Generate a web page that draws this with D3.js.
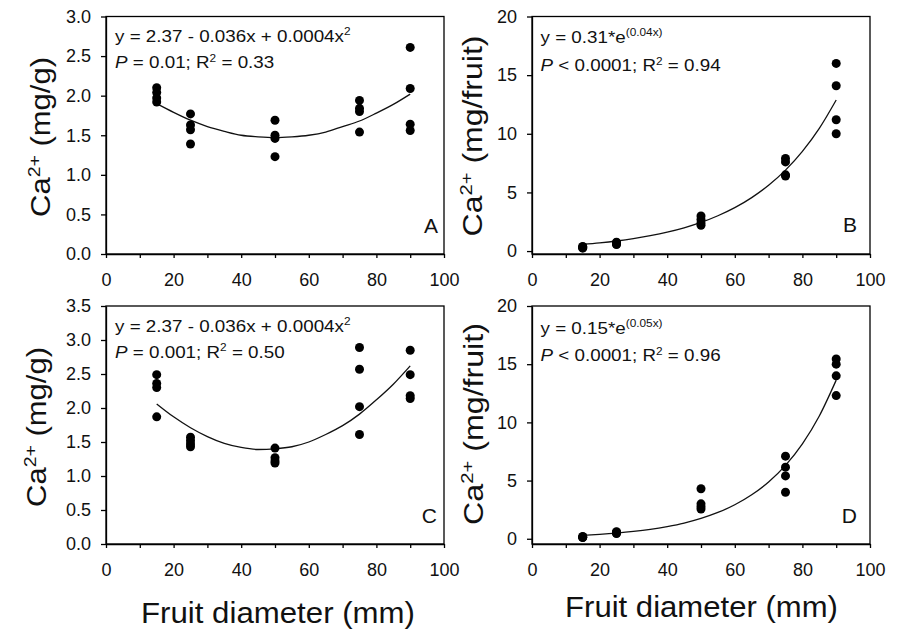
<!DOCTYPE html>
<html>
<head>
<meta charset="utf-8">
<script src="https://cdn.jsdelivr.net/npm/d3@7"></script>
<style>
body { margin: 0; background: #fff; }
svg { display: block; font-family: "Liberation Sans", Arial, sans-serif; }
</style>
</head>
<body>
<svg id="chart" width="903" height="633"></svg>
<script>
// fruit diameter classes (mm)
const diameters = [15, 25, 50, 75, 90]

// Ca2+ readings, one row per diameter class
const concA = [[2.10, 2.04, 1.97, 1.92], [1.77, 1.63, 1.57, 1.39], [1.69, 1.50, 1.46, 1.23], [1.94, 1.84, 1.80, 1.54], [2.61, 2.09, 1.64, 1.56]]
const fruitB = [[0.40, 0.35, 0.30, 0.25], [0.75, 0.70, 0.60, 0.55], [3.00, 2.70, 2.40, 2.20], [7.90, 7.60, 6.50, 6.40], [16.0, 14.1, 11.2, 10.0]]
const concC = [[2.49, 2.36, 2.30, 1.87], [1.57, 1.52, 1.47, 1.43], [1.41, 1.27, 1.22, 1.19], [2.89, 2.57, 2.02, 1.61], [2.85, 2.49, 2.18, 2.14]]
const fruitD = [[0.20, 0.15, 0.12, 0.10], [0.60, 0.55, 0.50, 0.45], [4.30, 3.00, 2.75, 2.55], [7.10, 6.15, 5.40, 4.00], [15.45, 15.0, 14.0, 12.3]]

// fitted curves, every 5 mm
const fitX = [15, 20, 25, 30, 35, 40, 45, 50, 55, 60, 65, 70, 75, 80, 85, 90]
const fitA = [1.90, 1.79, 1.69, 1.61, 1.55, 1.50, 1.48, 1.47, 1.48, 1.50, 1.54, 1.61, 1.68, 1.78, 1.89, 2.02]
const fitB = [0.57, 0.70, 0.86, 1.06, 1.31, 1.61, 1.98, 2.44, 3.01, 3.70, 4.56, 5.61, 6.90, 8.50, 10.46, 12.88]
const fitC = [2.06, 1.87, 1.71, 1.58, 1.48, 1.42, 1.39, 1.40, 1.43, 1.50, 1.61, 1.74, 1.91, 2.12, 2.35, 2.62]
const fitD = [0.29, 0.38, 0.49, 0.63, 0.81, 1.05, 1.35, 1.75, 2.26, 2.92, 3.78, 4.88, 6.31, 8.16, 10.55, 13.63]

// ticks
const xTicks = [0, 20, 40, 60, 80, 100]
const xMinor = [10, 30, 50, 70, 90]
const yTicksA = [0, 0.5, 1, 1.5, 2, 2.5, 3]
const yTicksC = [0, 0.5, 1, 1.5, 2, 2.5, 3, 3.5]
const yTicksFruit = [0, 5, 10, 15, 20]

// equation text: [string, style]  i = italic, s = superscript
const eqA = [[["y = 2.37 - 0.036x + 0.0004x", ""], ["2", "s"]],
             [["P", "i"], [" = 0.01; R", ""], ["2", "s"], [" = 0.33", ""]]]
const eqB = [[["y = 0.31*e", ""], ["(0.04x)", "s"]],
             [["P", "i"], [" < 0.0001; R", ""], ["2", "s"], [" = 0.94", ""]]]
const eqC = [[["y = 2.37 - 0.036x + 0.0004x", ""], ["2", "s"]],
             [["P", "i"], [" = 0.001; R", ""], ["2", "s"], [" = 0.50", ""]]]
const eqD = [[["y = 0.15*e", ""], ["(0.05x)", "s"]],
             [["P", "i"], [" < 0.0001; R", ""], ["2", "s"], [" = 0.96", ""]]]

const panelLetters = ["A", "B", "C", "D"]
const xTitle = "Fruit diameter (mm)"
const yUnits = ["(mg/g)", "(mg/fruit)", "(mg/g)", "(mg/fruit)"]

const svg = d3.select("#chart")
const ink = "#111"

const panels = [
    { box: [106, 444, 16.5, 254], ydom: [0, 3], yt: yTicksA, fmt: d3.format(".1f"), vals: concA, fit: fitA, eq: eqA,
      eqPos: [115, 41.7, 68.3], letterPos: [438, 233.3], yTitle: [50, 137, 160] },
    { box: [532, 870, 16.5, 254], ydom: [-0.25, 20], yt: yTicksFruit, fmt: d3.format("d"), vals: fruitB, fit: fitB, eq: eqB,
      eqPos: [540.5, 43.3, 71], letterPos: [857, 231.7], yTitle: [482, 136, 201] },
    { box: [106, 444, 306, 544], ydom: [0, 3.5], yt: yTicksC, fmt: d3.format(".1f"), vals: concC, fit: fitC, eq: eqC,
      eqPos: [115, 331.7, 357.7], letterPos: [437, 523.3], yTitle: [46, 427, 160], xTitle: [278, 623.3, 274] },
    { box: [532, 870, 306, 544], ydom: [-0.45, 20], yt: yTicksFruit, fmt: d3.format("d"), vals: fruitD, fit: fitD, eq: eqD,
      eqPos: [540.5, 334.3, 361], letterPos: [857, 523.3], yTitle: [483, 424, 202], xTitle: [701.5, 617, 273] }
]

function textLine(g, segs, size) {
    let t = g.append("text").attr("font-size", size).attr("fill", ink)
    let raised = 0
    segs.forEach(function (s) {
        let sp = t.append("tspan").text(s[0])
        if (s[1] === "s") {
            let shift = size * (s[0].length > 2 ? 0.42 : 0.38)
            sp.attr("font-size", size * 0.63).attr("dy", -shift)
            raised = shift
        } else {
            if (raised) { sp.attr("dy", raised); raised = 0 }
            if (s[1] === "i") sp.attr("font-style", "italic")
        }
    })
    return t
}

panels.forEach(function (p, i) {
    let [x0, x1, y0, y1] = p.box
    let x = d3.scaleLinear().domain([0, 100]).range([x0, x1])
    let y = d3.scaleLinear().domain(p.ydom).range([y1, y0])
    let g = svg.append("g")

    // frame
    g.append("rect").attr("x", x0).attr("y", y0).attr("width", x1 - x0).attr("height", y1 - y0)
        .attr("fill", "none").attr("stroke", "#000").attr("stroke-width", 1.3)

    let xa = g.append("g").attr("transform", `translate(0,${y1})`)
        .call(d3.axisBottom(x).tickValues(xTicks).tickSize(4).tickPadding(15).tickSizeOuter(0))
    g.append("g").attr("transform", `translate(0,${y1})`)
        .call(d3.axisBottom(x).tickValues(xMinor).tickSize(4).tickFormat("").tickSizeOuter(0))
        .call(a => a.select(".domain").remove())
    let ya = g.append("g").attr("transform", `translate(${x0},0)`)
        .call(d3.axisLeft(y).tickValues(p.yt).tickFormat(p.fmt).tickSize(5).tickPadding(10).tickSizeOuter(0))
    g.selectAll(".tick line, .domain").attr("stroke", "#000").attr("stroke-width", 1.3)
    g.selectAll(".tick text").attr("font-size", 18).attr("font-family", null).attr("fill", ink)

    // fitted curve
    let line = d3.line().x(d => x(d[0])).y(d => y(d[1])).curve(d3.curveMonotoneX)
    g.append("path").datum(fitX.map((v, k) => [v, p.fit[k]]))
        .attr("d", line).attr("fill", "none").attr("stroke", "#111").attr("stroke-width", 1.3)

    // points
    let pts = []
    p.vals.forEach((row, k) => row.forEach(v => pts.push([diameters[k], v])))
    g.selectAll("circle.pt").data(pts).join("circle").attr("class", "pt")
        .attr("cx", d => x(d[0])).attr("cy", d => y(d[1])).attr("r", 4.5).attr("fill", "#000")

    // equation
    p.eq.forEach(function (segs, k) {
        let eg = g.append("g").attr("transform", `translate(${p.eqPos[0]},${p.eqPos[k + 1]}) scale(1.14,1)`)
        textLine(eg, segs, 16.5)
    })

    // panel letter
    g.append("text").attr("x", p.letterPos[0]).attr("y", p.letterPos[1]).attr("text-anchor", "end")
        .attr("font-size", 21).attr("fill", ink).text(panelLetters[i])

    // y title
    let yt = g.append("g").attr("transform", `translate(${p.yTitle[0]},${p.yTitle[1]}) rotate(-90)`)
    let ytIn = yt.append("g")
    let ytText = textLine(ytIn, [["Ca", ""], ["2+", "s"], [" " + yUnits[i], ""]], 27).attr("text-anchor", "middle")
    let s = p.yTitle[2] / ytText.node().getComputedTextLength()
    ytIn.attr("transform", `scale(${s},1)`)

    // x title
    if (p.xTitle) {
        let xt = g.append("g").attr("transform", `translate(${p.xTitle[0]},${p.xTitle[1]})`)
        let xtText = xt.append("text").attr("text-anchor", "middle").attr("font-size", 30).attr("fill", ink).text(xTitle)
        let sx = p.xTitle[2] / xtText.node().getComputedTextLength()
        xt.attr("transform", `translate(${p.xTitle[0]},${p.xTitle[1]}) scale(${sx},1)`)
    }
})
</script>
</body>
</html>
